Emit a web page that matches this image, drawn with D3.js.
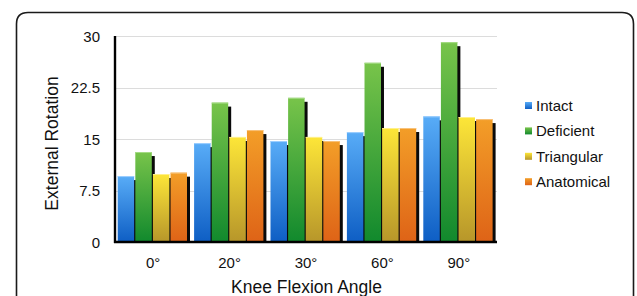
<!DOCTYPE html>
<html>
<head>
<meta charset="utf-8">
<script src="https://cdn.jsdelivr.net/npm/d3@7"></script>
<style>
  body { margin: 0; background: #fff; }
  svg { display: block; font-family: "Liberation Sans", Arial, sans-serif; }
</style>
</head>
<body>
<svg id="chart" width="637" height="296"></svg>
<script>
// chart values
var angles = ["0°", "20°", "30°", "60°", "90°"];
var seriesNames = ["Intact", "Deficient", "Triangular", "Anatomical"];
var intact     = [9.6, 14.4, 14.7, 16.0, 18.3];
var deficient  = [13.1, 20.3, 21.0, 26.1, 29.1];
var triangular = [9.9, 15.3, 15.3, 16.6, 18.2];
var anatomical = [10.1, 16.3, 14.7, 16.6, 17.9];
var yTicks = [0, 7.5, 15, 22.5, 30];

var seriesValues = [intact, deficient, triangular, anatomical];
var gradColors = [
    ["#58acf7", "#0e5ec4"],
    ["#78c44a", "#11892d"],
    ["#fde638", "#b7962a"],
    ["#f39e28", "#de6317"]
];
var topEdge = ["#9fd0ff", "#a6dc86", "#fff08a", "#f8c27a"];

var svg = d3.select("#chart");

// frame
svg.append("path")
    .attr("d", "M16.5,310 L16.5,24 Q16.5,12.5 28,12.5 L622,12.5 Q633.5,12.5 633.5,24 L633.5,310")
    .attr("fill", "none")
    .attr("stroke", "#1a1a1a")
    .attr("stroke-width", 1.6);

var plotLeft = 115, plotRight = 497, plotTop = 36, plotBottom = 242;

var y = d3.scaleLinear().domain([0, 30]).range([plotBottom, plotTop]);
var x0 = d3.scaleBand().domain(angles).range([plotLeft, plotRight]);
var x1 = d3.scaleBand().domain(seriesNames).range([2.7, 72]).paddingInner(0.065);

var defs = svg.append("defs");
gradColors.forEach(function(c, i) {
    var g = defs.append("linearGradient")
        .attr("id", "grad" + i)
        .attr("x1", 0).attr("y1", 0).attr("x2", 0).attr("y2", 1);
    g.append("stop").attr("offset", "0%").attr("stop-color", c[0]);
    g.append("stop").attr("offset", "100%").attr("stop-color", c[1]);
});

// gridlines
svg.append("g").selectAll("line")
    .data(yTicks.slice(1))
    .enter().append("line")
    .attr("x1", plotLeft).attr("x2", plotRight)
    .attr("y1", function(d) { return Math.round(y(d)) + 0.5; })
    .attr("y2", function(d) { return Math.round(y(d)) + 0.5; })
    .attr("stroke", "#dcdcdc")
    .attr("stroke-width", 1);

// y tick labels
svg.append("g").selectAll("text")
    .data(yTicks)
    .enter().append("text")
    .attr("x", 100)
    .attr("y", function(d) { return y(d) + 5.5; })
    .attr("text-anchor", "end")
    .attr("font-size", 15)
    .attr("fill", "#111")
    .text(function(d) { return d; });

var flat = [];
seriesValues.forEach(function(vals, s) {
    vals.forEach(function(v, a) {
        flat.push({ angle: angles[a], series: seriesNames[s], s: s, value: v });
    });
});

// shadows first
svg.append("g").selectAll("rect")
    .data(flat)
    .enter().append("rect")
    .attr("x", function(d) { return x0(d.angle) + x1(d.series) + 3; })
    .attr("y", function(d) { return y(d.value) + 4; })
    .attr("width", x1.bandwidth())
    .attr("height", function(d) { return plotBottom - y(d.value) - 4; })
    .attr("fill", "#0a0a0a");

var bars = svg.append("g").selectAll("g")
    .data(flat)
    .enter().append("g");

bars.append("rect")
    .attr("x", function(d) { return x0(d.angle) + x1(d.series); })
    .attr("y", function(d) { return y(d.value); })
    .attr("width", x1.bandwidth())
    .attr("height", function(d) { return plotBottom - y(d.value); })
    .attr("fill", function(d) { return "url(#grad" + d.s + ")"; });

bars.append("line")
    .attr("x1", function(d) { return x0(d.angle) + x1(d.series); })
    .attr("x2", function(d) { return x0(d.angle) + x1(d.series) + x1.bandwidth(); })
    .attr("y1", function(d) { return y(d.value) + 0.5; })
    .attr("y2", function(d) { return y(d.value) + 0.5; })
    .attr("stroke", function(d) { return topEdge[d.s]; })
    .attr("stroke-width", 1);

// axes lines
svg.append("line")
    .attr("x1", plotLeft).attr("x2", plotLeft)
    .attr("y1", plotTop).attr("y2", plotBottom + 1)
    .attr("stroke", "#000").attr("stroke-width", 2.4);
svg.append("line")
    .attr("x1", plotLeft - 1).attr("x2", plotRight)
    .attr("y1", plotBottom).attr("y2", plotBottom)
    .attr("stroke", "#000").attr("stroke-width", 2.6);

// category labels
svg.append("g").selectAll("text")
    .data(angles)
    .enter().append("text")
    .attr("x", function(d) { return x0(d) + x0.bandwidth() / 2; })
    .attr("y", 268)
    .attr("text-anchor", "middle")
    .attr("font-size", 15)
    .attr("fill", "#111")
    .text(function(d) { return d; });

// axis titles
svg.append("text")
    .attr("x", 306.5)
    .attr("y", 293)
    .attr("text-anchor", "middle")
    .attr("font-size", 17.5)
    .attr("fill", "#111")
    .text("Knee Flexion Angle");

svg.append("text")
    .attr("transform", "translate(57.5,143.5) rotate(-90)")
    .attr("text-anchor", "middle")
    .attr("font-size", 17.5)
    .attr("fill", "#111")
    .text("External Rotation");

// legend
var legend = svg.append("g").selectAll("g")
    .data(seriesNames)
    .enter().append("g")
    .attr("transform", function(d, i) { return "translate(525," + (105.5 + i * 25.4) + ")"; });

legend.append("rect")
    .attr("x", 0).attr("y", -3.5)
    .attr("width", 7).attr("height", 7)
    .attr("fill", function(d, i) { return "url(#grad" + i + ")"; });

legend.append("text")
    .attr("x", 11)
    .attr("y", 5.5)
    .attr("font-size", 15)
    .attr("fill", "#111")
    .text(function(d) { return d; });
</script>
</body>
</html>
